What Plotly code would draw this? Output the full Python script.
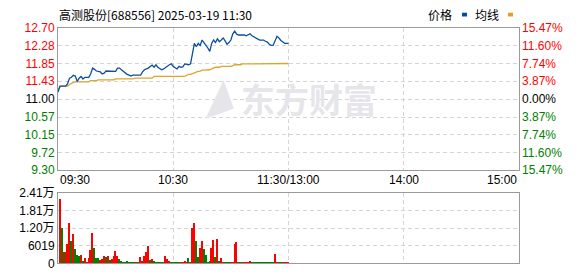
import plotly.graph_objects as go

W, H = 578, 276

# ---------------- data ----------------
title_text = "高测股份[688556] 2025-03-19 11:30"
prev_close = 11.00

# price per minute, 09:30 (minute 0) .. 11:30 (minute 120)
price = [
    11.17, 11.31, 11.31, 11.31, 11.31, 11.37, 11.50, 11.52, 11.57, 11.55,
    11.42, 11.50, 11.54, 11.48, 11.52, 11.52, 11.52, 11.60, 11.74, 11.71,
    11.67, 11.66, 11.65, 11.60, 11.62, 11.67, 11.67, 11.67, 11.66, 11.66,
    11.66, 11.74, 11.74, 11.70, 11.66, 11.63, 11.59, 11.57, 11.55, 11.57,
    11.57, 11.57, 11.57, 11.57, 11.65, 11.70, 11.72, 11.74, 11.78, 11.81,
    11.76, 11.82, 11.76, 11.72, 11.70, 11.72, 11.76, 11.80, 11.82, 11.84,
    11.78, 11.75, 11.72, 11.78, 11.76, 11.77, 11.84, 11.83, 11.82, 11.84,
    12.07, 12.33, 12.25, 12.33, 12.28, 12.41, 12.35, 12.29, 12.22, 12.14,
    12.33, 12.41, 12.35, 12.44, 12.37, 12.41, 12.46, 12.39, 12.31, 12.35,
    12.41, 12.56, 12.62, 12.55, 12.53, 12.53, 12.53, 12.53, 12.51, 12.53,
    12.56, 12.51, 12.48, 12.45, 12.42, 12.41, 12.41, 12.41, 12.38, 12.36,
    12.31, 12.28, 12.28, 12.41, 12.50, 12.46, 12.40, 12.37, 12.33, 12.33,
    12.33,
]

avg_price = [
    11.20, 11.29, 11.31, 11.31, 11.31, 11.31, 11.35, 11.38, 11.40, 11.41,
    11.41, 11.41, 11.41, 11.41, 11.41, 11.41, 11.41, 11.44, 11.44, 11.44,
    11.44, 11.46, 11.46, 11.46, 11.46, 11.46, 11.46, 11.46, 11.46, 11.46,
    11.48, 11.48, 11.48, 11.48, 11.48, 11.48, 11.48, 11.48, 11.48, 11.48,
    11.50, 11.50, 11.50, 11.50, 11.50, 11.50, 11.50, 11.50, 11.50, 11.50,
    11.54, 11.54, 11.54, 11.54, 11.54, 11.54, 11.54, 11.54, 11.54, 11.54,
    11.54, 11.54, 11.54, 11.54, 11.54, 11.54, 11.54, 11.57, 11.59, 11.59,
    11.61, 11.63, 11.65, 11.66, 11.67, 11.69, 11.69, 11.69, 11.70, 11.70,
    11.72, 11.74, 11.76, 11.76, 11.76, 11.78, 11.78, 11.78, 11.78, 11.78,
    11.78, 11.80, 11.82, 11.82, 11.82, 11.82, 11.84, 11.84, 11.84, 11.84,
    11.84, 11.84, 11.84, 11.84, 11.84, 11.84, 11.84, 11.84, 11.84, 11.84,
    11.85, 11.85, 11.85, 11.85, 11.85, 11.85, 11.85, 11.85, 11.85, 11.85,
    11.85,
]

# volume per minute, 09:31 .. 11:30
volume = [
    22000, 12040, 3900, 3900, 6500, 13660, 7480, 10090, 4880, 2930,
    2500, 2930, 870, 1630, 430, 1950, 4550, 10410, 5200, 1630,
    1950, 1080, 1300, 2600, 2000, 2400, 1000, 1300, 2400, 4230,
    2400, 1500, 900, 500, 500, 700, 400, 600, 400, 600,
    400, 500, 2000, 900, 2600, 3900, 5860, 1000, 1300, 900,
    400, 300, 300, 300, 200, 2400, 1300, 900, 300, 200,
    200, 600, 200, 200, 200, 900, 600, 1950, 300, 12040,
    13660, 7480, 2300, 5200, 7480, 4880, 2930, 300, 900, 5200,
    8130, 2300, 8460, 900, 1950, 600, 300, 600, 300, 600,
    600, 6500, 7160, 600, 600, 600, 300, 300, 300, 900,
    300, 300, 300, 300, 300, 300, 300, 300, 300, 300,
    300, 300, 3250, 600, 300, 300, 300, 300, 300, 300,
]
# R = up minute, G = down minute
vol_dir = ("RGRGRRGRGG" "GRGRRRRRGG" "GRRRGRGRRR" "RGGGGGGGGR" "GGRRRRRGRG"
           "GGGGGRRRGG" "GGGRRRRGRR" "RGGRRGGGGR" "RGRGRRGGGR" "RRRGRGRRRR"
           "GGGGGGGGGG" "GGRRGGGRRR")

price_ticks = [12.70, 12.28, 11.85, 11.43, 11.00, 10.57, 10.15, 9.72, 9.30]
pct_labels = ["15.47%", "11.60%", "7.74%", "3.87%", "0.00%",
              "3.87%", "7.74%", "11.60%", "15.47%"]
vol_ticks = [0, 6019, 12038, 18057, 24076]
vol_labels = ["0", "6019", "1.20万", "1.81万", "2.41万"]
time_ticks = [0, 60, 120, 180, 240]
time_labels = ["09:30", "10:30", "11:30/13:00", "14:00", "15:00"]

# ---------------- style ----------------
RED, GREEN, DARK = "#ff0000", "#008000", "#000000"
BLUE, GOLD = "#0b4f9f", "#dca52a"
GRID, BORDER = "#d4d4d4", "#9a9a9a"
FONT = "Liberation Sans, Arial, Noto Sans CJK SC, sans-serif"
CJK = "Noto Sans CJK SC, Liberation Sans, sans-serif"

def px_x(p):
    return p / W

def px_y(p):
    return 1 - p / H

x_dom = [px_x(58), px_x(519)]
price_dom = [px_y(172), px_y(22)]
vol_dom = [px_y(270), px_y(196)]

def color_for(v):
    if v > prev_close:
        return RED
    if v < prev_close:
        return GREEN
    return DARK

left_text = [f'<span style="color:{color_for(v)}">{v:.2f}</span>' for v in price_ticks]
right_text = [f'<span style="color:{color_for(v)}">{t}</span>' for v, t in zip(price_ticks, pct_labels)]

minutes_price = list(range(len(price)))
minutes_vol = list(range(1, len(volume) + 1))
bar_colors = [RED if d == "R" else GREEN for d in vol_dir]

fig = go.Figure()

fig.add_trace(go.Scatter(x=minutes_price, y=avg_price, mode="lines",
                         line=dict(color=GOLD, width=1.3), xaxis="x", yaxis="y",
                         hoverinfo="skip", showlegend=False))
fig.add_trace(go.Scatter(x=minutes_price, y=price, mode="lines",
                         line=dict(color=BLUE, width=1.3), xaxis="x", yaxis="y",
                         hoverinfo="skip", showlegend=False))
# invisible companion trace so the right-hand percentage axis is drawn
fig.add_trace(go.Scatter(x=minutes_price, y=price, mode="lines",
                         line=dict(color="rgba(0,0,0,0)", width=0), xaxis="x", yaxis="y3",
                         hoverinfo="skip", showlegend=False))
fig.add_trace(go.Bar(x=minutes_vol, y=volume, marker=dict(color=bar_colors, line=dict(width=0)),
                     width=0.7, xaxis="x2", yaxis="y2", showlegend=False, hoverinfo="skip"))

grid_common = dict(showgrid=True, gridcolor=GRID, griddash="4px,3px", gridwidth=1,
                   showline=True, linecolor=BORDER, linewidth=1, mirror=True,
                   zeroline=False, ticks="", fixedrange=True)

fig.update_layout(
    width=W, height=H,
    margin=dict(l=0, r=0, t=0, b=0),
    paper_bgcolor="white", plot_bgcolor="white",
    font=dict(family=FONT, size=12, color=DARK),
    bargap=0,
    xaxis=dict(domain=x_dom, range=[0, 240], tickvals=time_ticks, showticklabels=False,
               anchor="y", **grid_common),
    yaxis=dict(domain=price_dom, range=[9.30, 12.70], tickvals=price_ticks, ticktext=left_text,
               anchor="x", tickfont=dict(size=12), ticklabelstandoff=0, **grid_common),
    yaxis3=dict(overlaying="y", side="right", range=[9.30, 12.70], tickvals=price_ticks,
                ticktext=right_text, anchor="x", showgrid=False, zeroline=False, ticks="",
                showline=False, showticklabels=True, tickfont=dict(size=12),
                fixedrange=True, ticklabelstandoff=2),
    xaxis2=dict(domain=x_dom, range=[0, 240], tickvals=time_ticks, showticklabels=False,
                anchor="y2", **grid_common),
    yaxis2=dict(domain=vol_dom, range=[0, 24076], tickvals=vol_ticks, ticktext=vol_labels,
                anchor="x2", tickfont=dict(size=12, family=FONT), ticklabelstandoff=0,
                **grid_common),
)

annotations = []
# time labels under the price panel
for i, (tv, tl) in enumerate(zip(time_ticks, time_labels)):
    anchor = "left" if i == 0 else ("right" if i == len(time_ticks) - 1 else "center")
    annotations.append(dict(x=tv, xref="x", y=px_y(182), yref="paper", text=tl,
                            showarrow=False, xanchor=anchor, yanchor="middle",
                            font=dict(size=12, family=FONT, color=DARK)))
# title
annotations.append(dict(x=px_x(57), y=px_y(8), xref="paper", yref="paper", text=title_text,
                        showarrow=False, xanchor="left", yanchor="middle",
                        font=dict(size=12, family=CJK, color=DARK)))
# legend texts
annotations.append(dict(x=px_x(454), y=px_y(8), xref="paper", yref="paper", text="价格",
                        showarrow=False, xanchor="right", yanchor="middle",
                        font=dict(size=12, family=CJK, color=DARK)))
annotations.append(dict(x=px_x(501), y=px_y(8), xref="paper", yref="paper", text="均线",
                        showarrow=False, xanchor="right", yanchor="middle",
                        font=dict(size=12, family=CJK, color=DARK)))
# watermark
annotations.append(dict(x=px_x(309), y=px_y(96), xref="paper", yref="paper", text="<b>东方财富</b>",
                        showarrow=False, xanchor="center", yanchor="middle",
                        font=dict(size=34, family=CJK, color="#e6e6ea")))
annotations.append(dict(x=px_x(214), y=px_y(96), xref="paper", yref="paper", text="<b>◢</b>",
                        showarrow=False, xanchor="center", yanchor="middle", textangle=-20,
                        font=dict(size=30, family=CJK, color="#e6e6ea")))
fig.update_layout(annotations=annotations)

# legend swatches
fig.add_shape(type="rect", xref="paper", yref="paper", x0=px_x(462), x1=px_x(467),
              y0=px_y(10), y1=px_y(6), fillcolor="#0050a0", line=dict(width=0))
fig.add_shape(type="rect", xref="paper", yref="paper", x0=px_x(508), x1=px_x(513),
              y0=px_y(10), y1=px_y(6), fillcolor="#e0a020", line=dict(width=0))

fig.write_html("out.html")
